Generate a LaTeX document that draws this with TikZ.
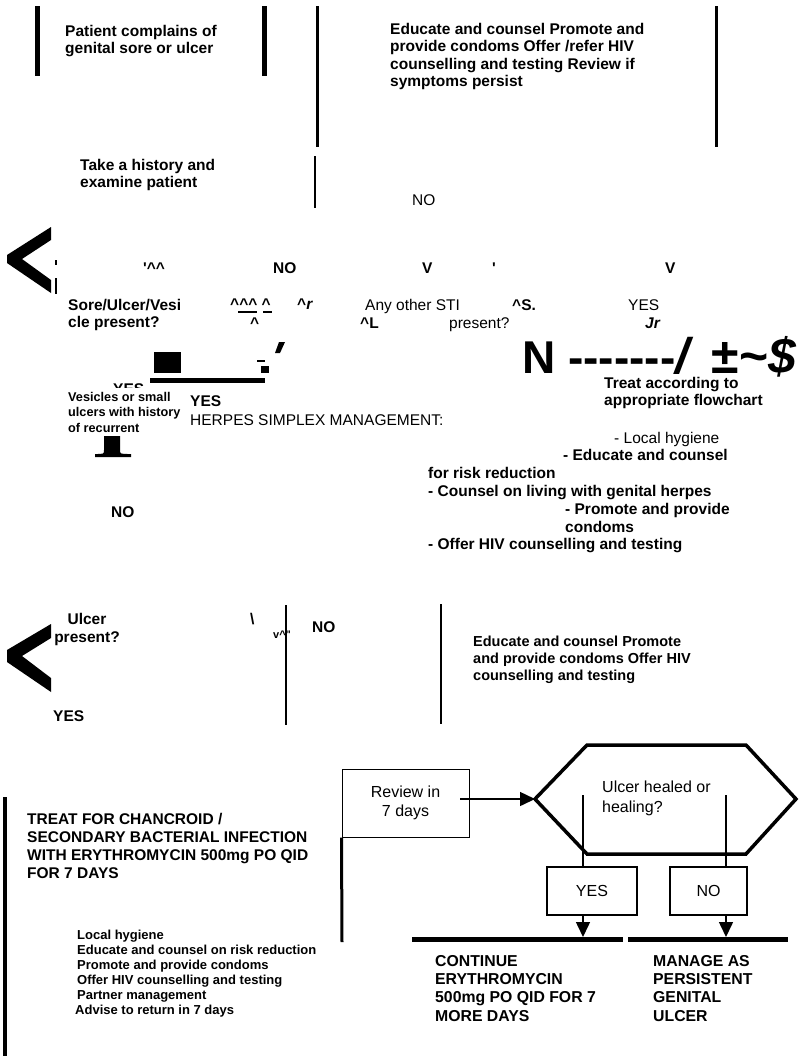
\documentclass[tikz,border=0pt]{standalone}
\usepackage{fontspec}
\setmainfont{Liberation Sans}[Ligatures=TeXOff]
\usepackage{tikz}
\usetikzlibrary{arrows.meta,positioning}

\begin{document}
\begin{tikzpicture}[x=1pt, y=-1pt, >={Triangle[length=15pt,width=14pt]},
    txt/.style={inner sep=0pt, align=left, font=\bfseries\fontsize{15.5}{17.5}\selectfont},
    rtxt/.style={inner sep=0pt, align=left, font=\fontsize{15.5}{17.5}\selectfont},
    stxt/.style={inner sep=0pt, align=left, font=\bfseries\fontsize{12.7}{15.5}\selectfont},
    ctxt/.style={inner sep=0pt, align=left, font=\bfseries\fontsize{13}{15}\selectfont},
    boxtxt/.style={draw, line width=1.2pt, inner sep=0pt, align=center, font=\fontsize{16}{19.5}\selectfont},
    bar/.style={line width=5pt},
    rule/.style={line width=3pt},
    link/.style={line width=1.5pt}]
    \useasboundingbox (0,0) rectangle (799,1058);

    % top row
    \draw[bar] (37,6) -- (37,76);
    \draw[bar] (264,6) -- (264,76);
    \draw[rule] (317,6) -- (317,147);
    \draw[rule] (716,6) -- (716,147);
    \node[txt, anchor=north west] (patient) at (65,25) {Patient complains of\\genital sore or ulcer};
    \node[txt, anchor=north west] (educate) at (390,23) {Educate and counsel Promote and\\provide condoms Offer /refer HIV\\counselling and testing Review if\\symptoms persist};
    \node[txt, anchor=north west] (history) at (80,159) {Take a history and\\examine patient};
    \draw[line width=2pt] (315,156) -- (315,208);
    \node[rtxt, anchor=base west] (no1) at (412,205) {NO};

    % first decision
    \fill (51,227) -- (7,255) -- (7,263) -- (51,293) -- (51,280) -- (22,259) -- (51,240) -- cycle;
    \draw[line width=2pt] (56,260) -- (56,265) (56,278) -- (56,294);
    \node[txt, anchor=base west] (mark1) at (143,273) {'\textasciicircum\textasciicircum};
    \node[txt, anchor=base west] (no2) at (273,273) {NO};
    \node[txt, anchor=base west] (v1) at (422,273) {V};
    \node[txt, anchor=base west] (tick1) at (492,273) {'};
    \node[txt, anchor=base west] (v2) at (665,273) {V};
    \node[txt, anchor=north west] (sore) at (68,299) {Sore/Ulcer/Vesi\\cle present?};
    \node[txt, anchor=base west] (mark2) at (230,309) {\textasciicircum\textasciicircum\textasciicircum{} \textasciicircum};
    \draw[line width=1.5pt] (238,312) -- (257,312) (263,312) -- (272,312);
    \node[txt, anchor=base west] (mark3) at (250,328) {\textasciicircum};
    \node[txt, anchor=base west] (mark4) at (297,309) {\textasciicircum\textit{r}};
    \node[rtxt, anchor=base west] (other) at (365,310) {Any other STI};
    \node[txt, anchor=base west] (mark5) at (360,328) {\textasciicircum L};
    \node[rtxt, anchor=base west] (present) at (449,328) {present?};
    \node[txt, anchor=base west] (mark6) at (512,310) {\textasciicircum S.};
    \node[rtxt, anchor=base west] (yes1) at (628,310) {YES};
    \node[txt, anchor=base west] (mark7) at (645,328) {\textit{Jr}};

    \fill (154,352) rectangle (181,373);
    \fill (150,378) rectangle (265,383);
    \fill (257,360) rectangle (265,362);
    \fill (261,366) rectangle (269,373);
    \fill (279,342) -- (285,342) -- (280,353) -- (275,353) -- cycle;
    \node[txt, anchor=base west, font=\bfseries\fontsize{46}{46}\selectfont] (bigN) at (522,373)
        {N -------{\fontsize{50}{50}\selectfont\textit{/}\hspace{18pt}±\textasciitilde\textit{\$}}};
    \node[txt, anchor=north west] (treatflow) at (604,377) {Treat according to\\appropriate flowchart};

    % herpes branch
    \node[txt, anchor=base west] (yes2) at (113,394) {YES};
    \node[stxt, anchor=north west, fill=white, inner ysep=4pt] (vesicles) at (68,388) {Vesicles or small\\ulcers with history\\of recurrent};
    \node[txt, anchor=base west] (yes3) at (190,406) {YES};
    \node[rtxt, anchor=base west] (herpes) at (190,425) {HERPES SIMPLEX MANAGEMENT:};
    \fill (104,436) -- (120,436) -- (120,450) .. controls (120,454) .. (131,454) -- (131,457)
        -- (95,457) -- (95,454) .. controls (104,454) .. (104,450) -- cycle;
    \node[rtxt, anchor=base west] (hyg) at (614,443) {- Local hygiene};
    \node[txt, anchor=base west] (hs1) at (563,460) {- Educate and counsel};
    \node[txt, anchor=base west] (hs2) at (428,478) {for risk reduction};
    \node[txt, anchor=base west] (hs3) at (428,496) {- Counsel on living with genital herpes};
    \node[txt, anchor=base west] (hs4) at (565,514) {- Promote and provide};
    \node[txt, anchor=base west] (hs5) at (565,532) {condoms};
    \node[txt, anchor=base west] (hs6) at (428,549) {- Offer HIV counselling and testing};
    \node[txt, anchor=base west] (no3) at (111,517) {NO};

    % ulcer decision
    \fill (51,624) -- (7,650) -- (7,662) -- (51,692) -- (51,678) -- (22,656) -- (51,638) -- cycle;
    \node[txt, anchor=north, align=center, font=\bfseries\fontsize{15.5}{18}\selectfont] (ulcer) at (87,613) {Ulcer\\present?};
    \node[txt, anchor=base west] (bslash) at (250,624) {\textbackslash};
    \node[txt, anchor=base west, font=\bfseries\fontsize{11}{13}\selectfont] (vmark) at (273,638) {v\textasciicircum"};
    \draw[line width=2.5pt] (286,605) -- (286,725);
    \node[txt, anchor=base west] (no4) at (312,632) {NO};
    \draw[line width=2pt] (441,604) -- (441,724);
    \node[txt, anchor=north west, font=\bfseries\fontsize{14.5}{17}\selectfont] (educate2) at (473,636) {Educate and counsel Promote\\and provide condoms Offer HIV\\counselling and testing};
    \node[txt, anchor=base west] (yes4) at (53,721) {YES};

    % chancroid treatment
    \draw[line width=3.5pt] (5,797) -- (5,1056);
    \node[txt, anchor=north west, font=\bfseries\fontsize{15.5}{18}\selectfont] (treat) at (27,813) {TREAT FOR CHANCROID /\\SECONDARY BACTERIAL INFECTION\\WITH ERYTHROMYCIN 500mg PO QID\\FOR 7 DAYS};
    \node[ctxt, anchor=north west] (care) at (77,930) {Local hygiene\\Educate and counsel on risk reduction\\Promote and provide condoms\\Offer HIV counselling and testing\\Partner management\\\hspace{-2pt}Advise to return in 7 days};

    % review
    \node[boxtxt, line width=1pt, minimum width=127pt, minimum height=68pt] (review) at (405.5,803) {Review in\\7 days};
    \coordinate (revtail) at (342,942);
    \draw[rule] (review.south west) -- (revtail);
    \draw[line width=3.5pt] (535,799) -- (587,745) -- (746,745) -- (796,799) -- (746,854) -- (587,854) -- cycle;
    \coordinate (hexL) at (535,799);
    \coordinate (revout) at (460,799);
    \draw[->, link] (revout) -- (hexL);
    \node[rtxt, anchor=north west, font=\fontsize{16}{20}\selectfont] (healed) at (602,781) {Ulcer healed or\\healing?};

    \node[boxtxt, minimum width=90pt, minimum height=48pt] (yesbox) at (592,891) {YES};
    \node[boxtxt, minimum width=77pt, minimum height=48pt] (nobox) at (708.5,891) {NO};
    \coordinate (yesin) at (583,795);
    \coordinate (noin) at (726,795);
    \draw[link] (yesin) -- (yesin |- yesbox.north);
    \draw[link] (noin) -- (noin |- nobox.north);
    \coordinate (conttop) at (583,937);
    \coordinate (mantop) at (726,937);
    \draw[->, link] (yesin |- yesbox.south) -- (conttop);
    \draw[->, link] (noin |- nobox.south) -- (mantop);
    \draw[line width=4.5pt] (412,939.5) -- (623,939.5);
    \draw[line width=4.5pt] (628,939.5) -- (788,939.5);
    \node[txt, anchor=north west, font=\bfseries\fontsize{15.8}{18.3}\selectfont] (cont) at (435,955) {CONTINUE\\ERYTHROMYCIN\\500mg PO QID FOR 7\\MORE DAYS};
    \node[txt, anchor=north west, font=\bfseries\fontsize{15.8}{18.3}\selectfont] (manage) at (653,955) {MANAGE AS\\PERSISTENT\\GENITAL\\ULCER};
\end{tikzpicture}
\end{document}
